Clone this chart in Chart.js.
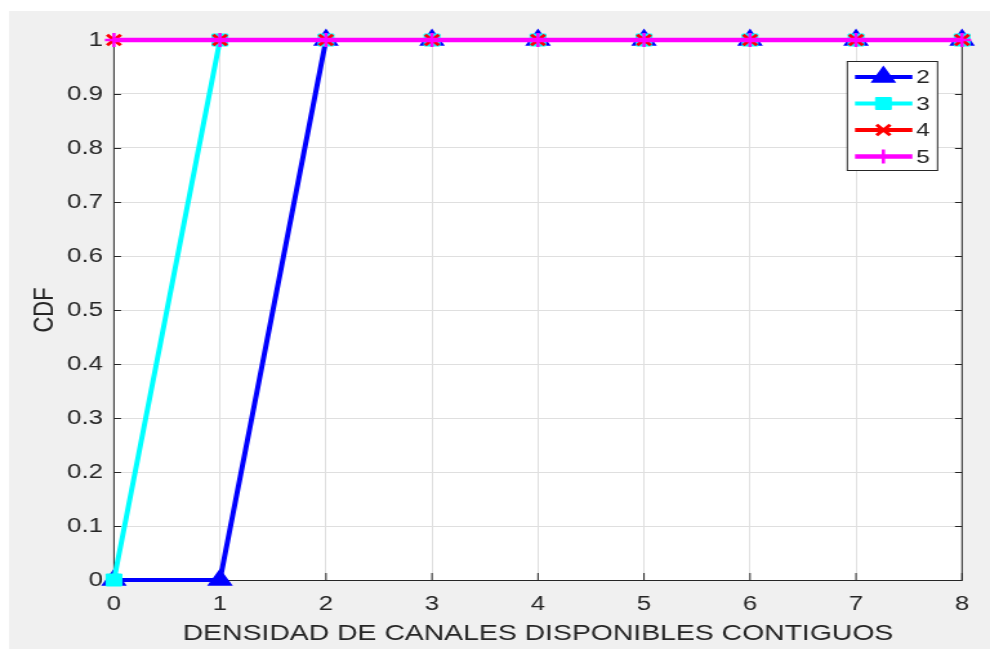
<!DOCTYPE html>
<html>
<head>
<meta charset="utf-8">
<script src="https://cdn.jsdelivr.net/npm/chart.js@4/dist/chart.umd.min.js"></script>
<style>
  html, body { margin: 0; padding: 0; background: #fff; overflow: hidden; }
  /* the original figure was pasted stretched sideways, so the canvas is too */
  #cdf { display: block; transform: scaleX(1.2890625); transform-origin: 0 0; }
</style>
</head>
<body>
<canvas id="cdf" width="768" height="649"></canvas>
<script>
// CDF of contiguous available channel density, one series per case
const xValues = [0, 1, 2, 3, 4, 5, 6, 7, 8];
const seriesNames = ['2', '3', '4', '5'];
const cdf2 = [0, 0, 1, 1, 1, 1, 1, 1, 1];
const cdf3 = [0, 1, 1, 1, 1, 1, 1, 1, 1];
const cdf4 = [1, 1, 1, 1, 1, 1, 1, 1, 1];
const cdf5 = [1, 1, 1, 1, 1, 1, 1, 1, 1];

const textColor = '#262626';
const fontFamily = '"Liberation Sans", Arial, Helvetica, sans-serif';

function toPoints(ys) {
    return ys.map((y, i) => ({ x: xValues[i], y: y }));
}

// grey figure background with a thin white margin at top/left
const figureBackground = {
    id: 'figureBackground',
    beforeDraw(chart) {
        const ctx = chart.ctx;
        ctx.save();
        ctx.fillStyle = '#ffffff';
        ctx.fillRect(0, 0, chart.width, chart.height);
        ctx.fillStyle = '#f0f0f0';
        ctx.fillRect(7, 11, chart.width - 7, chart.height - 11);
        const a = chart.chartArea;
        ctx.fillStyle = '#ffffff';
        ctx.fillRect(a.left, a.top, a.right - a.left, a.bottom - a.top);
        ctx.restore();
    }
};

// matlab style box with inward ticks on all four sides
const axesBox = {
    id: 'axesBox',
    beforeDatasetsDraw(chart) {
        const ctx = chart.ctx;
        const a = chart.chartArea;
        const xs = chart.scales.x;
        const ys = chart.scales.y;
        ctx.save();
        ctx.strokeStyle = textColor;
        ctx.lineWidth = 1;
        ctx.beginPath();
        xs.ticks.forEach(t => {
            const px = xs.getPixelForValue(t.value);
            ctx.moveTo(px, a.bottom);
            ctx.lineTo(px, a.bottom - 7);
            ctx.moveTo(px, a.top);
            ctx.lineTo(px, a.top + 7);
        });
        ys.ticks.forEach(t => {
            const py = Math.round(ys.getPixelForValue(t.value)) + 0.5;
            ctx.moveTo(a.left, py);
            ctx.lineTo(a.left + 5.5, py);
            ctx.moveTo(a.right, py);
            ctx.lineTo(a.right - 5.5, py);
        });
        ctx.stroke();
        ctx.strokeRect(a.left, Math.round(a.top) + 0.5, a.right - a.left, Math.round(a.bottom - a.top));
        ctx.restore();
    }
};

// legend box with line + marker samples, top right inside the axes
const boxLegend = {
    id: 'boxLegend',
    afterDraw(chart) {
        const ctx = chart.ctx;
        const a = chart.chartArea;
        const sets = chart.data.datasets;
        const w = 70, rowH = 26.5, h = 109;
        const left = a.right - 19 - w;
        const top = a.top + 21;
        ctx.save();
        ctx.fillStyle = '#ffffff';
        ctx.fillRect(left, top, w, h);
        ctx.strokeStyle = textColor;
        ctx.lineWidth = 1;
        ctx.strokeRect(left, top + 0.5, w, h);
        ctx.font = '19px ' + fontFamily;
        ctx.textBaseline = 'middle';
        sets.forEach((ds, i) => {
            const cy = top + 16 + i * rowH;
            ctx.strokeStyle = ds.borderColor;
            ctx.lineWidth = ds.borderWidth;
            ctx.beginPath();
            ctx.moveTo(left + 6, cy);
            ctx.lineTo(left + 50.5, cy);
            ctx.stroke();
            ctx.fillStyle = ds.pointBackgroundColor;
            ctx.strokeStyle = ds.pointBorderColor;
            ctx.lineWidth = ds.pointBorderWidth;
            Chart.helpers.drawPoint(ctx, {
                pointStyle: ds.pointStyle,
                radius: ds.pointRadius,
                rotation: 0,
                borderWidth: ds.pointBorderWidth
            }, left + 28, cy);
            ctx.fillStyle = textColor;
            ctx.fillText(ds.label, left + 53.5, cy + 1);
        });
        ctx.restore();
    }
};

new Chart(document.getElementById('cdf'), {
    type: 'line',
    data: {
        datasets: [
            {
                label: seriesNames[0],
                data: toPoints(cdf2),
                borderColor: '#0000ff',
                borderWidth: 4,
                pointStyle: 'triangle',
                pointRadius: 9.5,
                pointBackgroundColor: '#0000ff',
                pointBorderColor: '#0000ff',
                pointBorderWidth: 2,
                order: 4,
                clip: false,
            },
            {
                label: seriesNames[1],
                data: toPoints(cdf3),
                borderColor: '#00ffff',
                borderWidth: 4,
                pointStyle: 'rect',
                pointRadius: 8.5,
                pointBackgroundColor: '#00ffff',
                pointBorderColor: '#00ffff',
                pointBorderWidth: 1,
                order: 3,
                clip: false,
            },
            {
                label: seriesNames[2],
                data: toPoints(cdf4),
                borderColor: '#ff0000',
                borderWidth: 4,
                pointStyle: 'crossRot',
                pointRadius: 7.5,
                pointBackgroundColor: '#ff0000',
                pointBorderColor: '#ff0000',
                pointBorderWidth: 3,
                order: 2,
                clip: false,
            },
            {
                label: seriesNames[3],
                data: toPoints(cdf5),
                borderColor: '#ff00ff',
                borderWidth: 4.5,
                pointStyle: 'cross',
                pointRadius: 7,
                pointBackgroundColor: '#ff00ff',
                pointBorderColor: '#ff00ff',
                pointBorderWidth: 2.5,
                order: 1,
                clip: false,
            }
        ]
    },
    options: {
        responsive: false,
        animation: false,
        layout: { padding: { left: 0, right: 21.7, top: 40, bottom: 0 } },
        plugins: {
            legend: { display: false },
            tooltip: { enabled: false },
        },
        scales: {
            x: {
                type: 'linear',
                min: 0,
                max: 8,
                afterFit: s => { s.height = 69; },
                ticks: {
                    stepSize: 1,
                    padding: 12,
                    color: textColor,
                    font: { family: fontFamily, size: 20 },
                    maxRotation: 0,
                },
                grid: { color: '#dfdfdf', drawTicks: false },
                border: { display: false },
                title: {
                    display: true,
                    text: 'DENSIDAD DE CANALES DISPONIBLES CONTIGUOS',
                    color: textColor,
                    font: { family: fontFamily, size: 22 },
                    padding: { top: 2, bottom: 2 },
                },
            },
            y: {
                min: 0,
                max: 1,
                afterFit: s => { s.width = 88.4; },
                ticks: {
                    stepSize: 0.1,
                    padding: 8.5,
                    color: textColor,
                    font: { family: fontFamily, size: 20 },
                    callback: v => String(+v.toFixed(1)),
                },
                grid: { color: '#dfdfdf', drawTicks: false },
                border: { display: false },
                title: {
                    display: true,
                    text: 'CDF',
                    color: textColor,
                    font: { family: fontFamily, size: 22 },
                    padding: { top: 21.5, bottom: 21.5 },
                },
            },
        },
    },
    plugins: [figureBackground, axesBox, boxLegend],
});
</script>
</body>
</html>
